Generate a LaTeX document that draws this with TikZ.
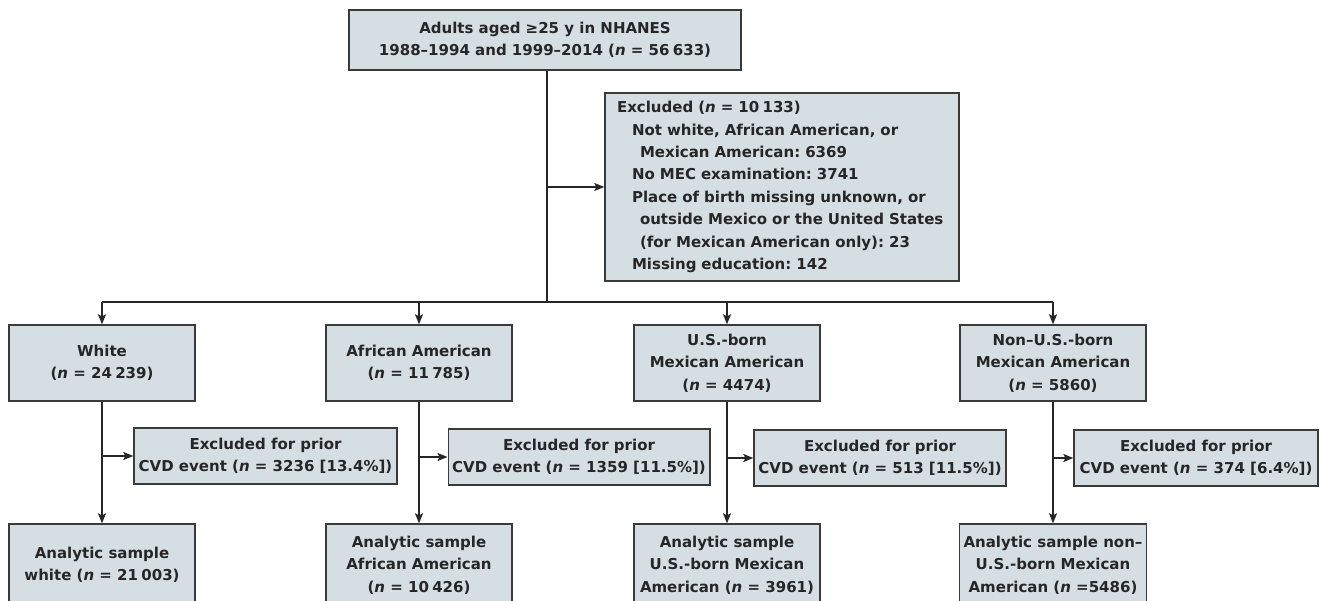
\documentclass[tikz,border=0pt]{standalone}
\usepackage{fontspec}
\setmainfont{DejaVu Sans}
\usetikzlibrary{arrows.meta}
\definecolor{boxfill}{HTML}{D4DEE3}
\definecolor{boxdraw}{HTML}{3A3A3A}
\definecolor{linecol}{HTML}{262626}
\frenchspacing
\newcommand{\gsp}{\kern0.22em}
\begin{document}
\begin{tikzpicture}[x=1pt,y=-1pt,
  box/.style={draw=boxdraw,fill=boxfill,line width=1.4pt,inner sep=4pt,align=center,
    font=\fontsize{15}{22.4}\selectfont\bfseries,text=black!85},
  conn/.style={draw=linecol,line width=1.3pt},
  arr/.style={conn,-{Stealth[length=10pt,width=8pt,inset=2pt]}}]
\useasboundingbox (0,0) rectangle (1322,601);
\clip (0,0) rectangle (1322,601);
% top
\node[box,minimum width=392pt,minimum height=60pt] (top) at (545,40)
  {Adults aged ≥25 y in NHANES\\1988–1994 and 1999–2014 (\textit{n} = 56\gsp633)};
\node[box,minimum width=354pt,minimum height=188pt,text width=330pt,inner xsep=12pt,align=left] (excl) at (782,187)
  {Excluded (\textit{n} = 10\gsp133)\\
   \hspace*{15pt}Not white, African American, or\\
   \hspace*{23pt}Mexican American: 6369\\
   \hspace*{15pt}No MEC examination: 3741\\
   \hspace*{15pt}Place of birth missing unknown, or\\
   \hspace*{23pt}outside Mexico or the United States\\
   \hspace*{23pt}(for Mexican American only): 23\\
   \hspace*{15pt}Missing education: 142};
% groups
\tikzset{grp/.style={box,minimum width=186pt,minimum height=76pt}}
\node[grp] (w) at (102,363) {White\\(\textit{n} = 24\gsp239)};
\node[grp] (aa) at (419,363) {African American\\(\textit{n} = 11\gsp785)};
\node[grp] (us) at (727,363) {U.S.-born\\Mexican American\\(\textit{n} = 4474)};
\node[grp] (nus) at (1053,363) {Non–U.S.-born\\Mexican American\\(\textit{n} = 5860)};
% CVD exclusions
\tikzset{cvd/.style={box,minimum height=56pt}}
\node[cvd,minimum width=263pt] (wx) at (265.5,456) {Excluded for prior\\CVD event (\textit{n} = 3236 [13.4\%])};
\node[cvd,minimum width=260pt] (aax) at (579,457) {Excluded for prior\\CVD event (\textit{n} = 1359 [11.5\%])};
\node[cvd,minimum width=252pt] (usx) at (880,458) {Excluded for prior\\CVD event (\textit{n} = 513 [11.5\%])};
\node[cvd,minimum width=244pt] (nusx) at (1196,458) {Excluded for prior\\CVD event (\textit{n} = 374 [6.4\%])};
% analytic samples
\tikzset{ana/.style={box,minimum width=186pt,minimum height=82pt}}
\node[ana] (wa) at (102,565) {Analytic sample\\white (\textit{n} = 21\gsp003)};
\node[ana] (aaa) at (419,565) {Analytic sample\\African American\\(\textit{n} = 10\gsp426)};
\node[ana] (usa) at (727,565) {Analytic sample\\U.S.-born Mexican\\American (\textit{n} = 3961)};
\node[ana] (nusa) at (1053,565) {Analytic sample non–\\U.S.-born Mexican\\American (\textit{n} =5486)};
% connectors
\coordinate (split) at (547,302);
\coordinate (exj) at (547,187);
\draw[conn] (top.south -| split) -- (split);
\draw[arr] (exj) -- (excl.west |- exj);
\draw[conn] (w.north |- split) -- (nus.north |- split);
\foreach \g in {w,aa,us,nus}{
  \draw[arr] (\g.north |- split) -- (\g.north);
}
\foreach \g/\x/\a in {w/wx/wa,aa/aax/aaa,us/usx/usa,nus/nusx/nusa}{
  \draw[arr] (\g.south) -- (\a.north);
  \draw[arr] (\g.south |- \x.west) -- (\x.west);
}
\end{tikzpicture}
\end{document}
